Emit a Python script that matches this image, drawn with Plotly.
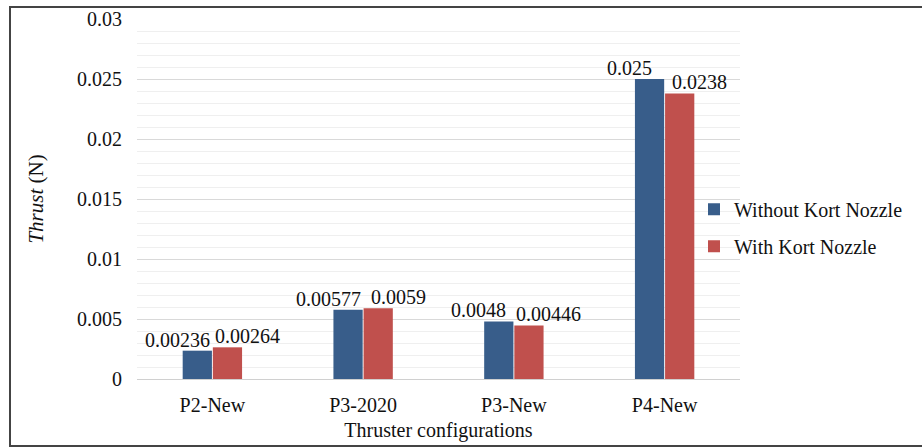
import plotly.graph_objects as go

categories = ["P2-New", "P3-2020", "P3-New", "P4-New"]
without_kort = [0.00236, 0.00577, 0.0048, 0.025]
with_kort = [0.00264, 0.0059, 0.00446, 0.0238]
without_labels = ["0.00236", "0.00577", "0.0048", "0.025"]
with_labels = ["0.00264", "0.0059", "0.00446", "0.0238"]
y_ticks = [0, 0.005, 0.01, 0.015, 0.02, 0.025, 0.03]
y_tick_labels = ["0", "0.005", "0.01", "0.015", "0.02", "0.025", "0.03"]

FONT = "Liberation Serif, Times New Roman, serif"
TXT = "#111"
FS = 20

fig = go.Figure()
fig.add_trace(go.Bar(
    x=categories, y=without_kort, name="Without Kort Nozzle",
    marker=dict(color="#385d8a", line=dict(width=0)),
    legendgroup="a",
))
fig.add_trace(go.Bar(
    x=categories, y=with_kort, name="With Kort Nozzle",
    marker=dict(color="#c0504d", line=dict(width=0)),
    legendgroup="b",
))

annotations = []
for c, v, t in zip(categories, without_kort, without_labels):
    annotations.append(dict(x=c, y=v, xref="x", yref="y", text=t, showarrow=False,
                            xanchor="center", yanchor="bottom", xshift=-35, yshift=-2,
                            font=dict(family=FONT, size=FS, color=TXT)))
for c, v, t in zip(categories, with_kort, with_labels):
    annotations.append(dict(x=c, y=v, xref="x", yref="y", text=t, showarrow=False,
                            xanchor="center", yanchor="bottom", xshift=35, yshift=-2,
                            font=dict(family=FONT, size=FS, color=TXT)))

L, R, T, B = 137, 182, 19, 68
W, H = 922, 447
pw, ph = W - L - R, H - T - B

fig.update_layout(
    width=W, height=H,
    margin=dict(l=L, r=R, t=T, b=B, autoexpand=False),
    paper_bgcolor="white", plot_bgcolor="white",
    barmode="group", bargap=0.6, bargroupgap=0.03,
    font=dict(family=FONT, size=FS, color=TXT),
    showlegend=True,
    legend=dict(x=(694 - L) / pw, y=0.42, xanchor="left", yanchor="middle",
                font=dict(family=FONT, size=FS, color=TXT),
                traceorder="grouped", tracegroupgap=8, itemwidth=30,
                bgcolor="rgba(0,0,0,0)"),
    xaxis=dict(
        showgrid=False, showline=False, ticks="",
        ticklabelstandoff=12,
        tickfont=dict(family=FONT, size=FS, color=TXT),
        title=dict(text="Thruster configurations", standoff=7,
                   font=dict(family=FONT, size=FS, color=TXT)),
    ),
    yaxis=dict(
        range=[0, 0.03], tickvals=y_ticks, ticktext=y_tick_labels,
        showgrid=True, gridcolor="#d9d9d9", gridwidth=1,
        minor=dict(dtick=0.001, showgrid=True, gridcolor="#efefef", gridwidth=1),
        zeroline=True, zerolinecolor="#d0d0d0", zerolinewidth=1,
        showline=False, ticks="",
        ticklabelstandoff=14,
        tickfont=dict(family=FONT, size=FS, color=TXT),
        title=dict(text="<i>Thrust</i> (N)", standoff=27,
                   font=dict(family=FONT, size=21, color=TXT)),
    ),
    annotations=annotations,
    shapes=[dict(type="rect", xref="paper", yref="paper",
                 x0=(10 - L) / pw, x1=(935 - L) / pw,
                 y0=(H - B - 446) / ph, y1=(H - B - 7) / ph,
                 line=dict(color="#444", width=2), fillcolor="rgba(0,0,0,0)",
                 layer="below")],
)

fig.write_html("out.html", config={"displayModeBar": False},
               post_script="document.body.style.margin='0px';")
